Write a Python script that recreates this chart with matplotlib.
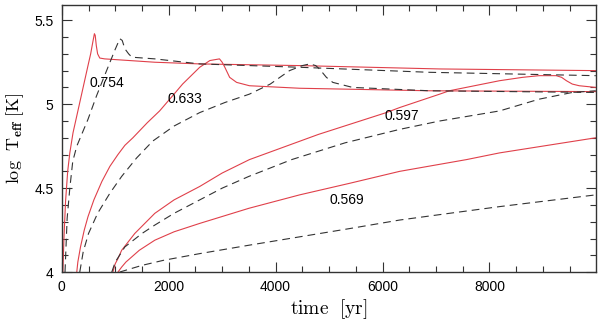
import matplotlib
matplotlib.use("Agg")
import matplotlib.pyplot as plt
from matplotlib.ticker import MultipleLocator

# ---- data ----
red_754_t = [20, 40, 70, 110, 150, 210, 280, 350, 420, 490, 540, 580, 610, 625, 645, 670, 710, 800, 1740, 2580, 4450, 7070, 9990]
red_754_v = [4.00, 4.20, 4.42, 4.60, 4.71, 4.83, 4.93, 5.03, 5.13, 5.23, 5.30, 5.37, 5.42, 5.41, 5.35, 5.30, 5.275, 5.27, 5.25, 5.24, 5.23, 5.21, 5.20]

dash_754_t = [60, 100, 150, 205, 280, 490, 650, 800, 990, 1085, 1130, 1180, 1250, 1310, 1740, 2580, 4450, 6880, 9990]
dash_754_v = [4.00, 4.32, 4.50, 4.66, 4.75, 4.91, 5.05, 5.17, 5.32, 5.39, 5.38, 5.33, 5.30, 5.28, 5.27, 5.24, 5.22, 5.19, 5.17]

red_633_t = [280, 300, 350, 420, 490, 600, 750, 900, 1050, 1180, 1330, 1600, 1830, 2100, 2260, 2580, 2770, 2950, 3000, 3050, 3140, 3270, 3510, 4450, 6880, 9990]
red_633_v = [4.00, 4.06, 4.15, 4.25, 4.33, 4.43, 4.54, 4.63, 4.70, 4.755, 4.80, 4.89, 4.96, 5.06, 5.12, 5.22, 5.26, 5.27, 5.25, 5.22, 5.16, 5.13, 5.11, 5.095, 5.08, 5.075]

dash_633_t = [336, 400, 500, 670, 900, 1120, 1400, 1700, 2100, 2580, 3050, 3510, 3900, 4260, 4500, 4640, 4750, 4820, 4950, 5070, 5440, 6880, 9990]
dash_633_v = [4.00, 4.12, 4.23, 4.35, 4.47, 4.57, 4.68, 4.78, 4.87, 4.95, 5.01, 5.06, 5.12, 5.20, 5.23, 5.24, 5.23, 5.21, 5.16, 5.13, 5.10, 5.08, 5.07]

red_597_t = [955, 1000, 1050, 1120, 1365, 1740, 2100, 2580, 3000, 3510, 4800, 6070, 6320, 7070, 7250, 8190, 8620, 8930, 9250, 9350, 9440, 9550, 9680, 9990]
red_597_v = [4.00, 4.05, 4.08, 4.13, 4.23, 4.35, 4.43, 4.51, 4.59, 4.67, 4.82, 4.95, 4.98, 5.06, 5.08, 5.14, 5.16, 5.17, 5.17, 5.16, 5.14, 5.12, 5.11, 5.10]

dash_597_t = [935, 1000, 1180, 1500, 1740, 2100, 2580, 3000, 3500, 4300, 5300, 6320, 7070, 8190, 8930, 9550, 9990]
dash_597_v = [4.00, 4.06, 4.15, 4.23, 4.28, 4.35, 4.43, 4.50, 4.57, 4.67, 4.77, 4.85, 4.90, 4.96, 5.03, 5.07, 5.08]

red_569_t = [1050, 1120, 1200, 1450, 1740, 2100, 2580, 3500, 4450, 5400, 6320, 7570, 8190, 9990]
red_569_v = [4.00, 4.03, 4.06, 4.13, 4.19, 4.24, 4.29, 4.38, 4.46, 4.53, 4.60, 4.67, 4.71, 4.80]

dash_569_t = [1080, 1500, 1900, 2580, 3500, 4450, 5400, 6320, 7250, 8190, 9990]
dash_569_v = [4.00, 4.04, 4.07, 4.11, 4.16, 4.21, 4.26, 4.31, 4.35, 4.39, 4.46]

mass_labels = ["0.754", "0.633", "0.597", "0.569"]
label_t = [841, 2300, 6355, 5330]
label_v = [5.125, 5.03, 4.93, 4.43]

xticks = [0, 2000, 4000, 6000, 8000]
yticks = [4, 4.5, 5, 5.5]
ytick_labels = ["4", "4.5", "5", "5.5"]

# ---- plot ----
plt.rcParams['mathtext.fontset'] = 'cm'
fig = plt.figure(figsize=(6.0, 3.22), dpi=100)
ax = fig.add_axes([0.103, 0.155, 0.890, 0.829])

red = "#e0404a"
dk = "#333333"
lw = 0.8
for t, v in [(red_754_t, red_754_v), (red_633_t, red_633_v), (red_597_t, red_597_v), (red_569_t, red_569_v)]:
    ax.plot(t, v, color=red, lw=lw, solid_joinstyle='round')
for t, v in [(dash_754_t, dash_754_v), (dash_633_t, dash_633_v), (dash_597_t, dash_597_v), (dash_569_t, dash_569_v)]:
    ax.plot(t, v, color=dk, lw=lw, dashes=(7, 4.5))

for s, t, v in zip(mass_labels, label_t, label_v):
    ax.text(t, v, s, fontsize=10, family="Liberation Sans", ha="center", va="center")

ax.set_xlim(0, 9990)
ax.set_ylim(4, 5.59)
ax.set_xticks(xticks)
ax.set_xticklabels([str(x) for x in xticks], family="Liberation Sans", fontsize=10)
ax.set_yticks(yticks)
ax.set_yticklabels(ytick_labels, family="Liberation Sans", fontsize=10)
ax.xaxis.set_minor_locator(MultipleLocator(500))
ax.yaxis.set_minor_locator(MultipleLocator(0.1))
ax.tick_params(which='both', direction='in', top=True, right=True, colors='#333333', labelcolor='black')
ax.tick_params(which='major', length=7, width=0.8, pad=6)
ax.tick_params(which='minor', length=4, width=0.8)
for sp in ax.spines.values():
    sp.set_color('#333333')
    sp.set_linewidth(1.0)

ax.set_xlabel(r'$\mathrm{time\ \ [yr]}$', fontsize=14, labelpad=2)
ax.set_ylabel(r'$\mathrm{log\ \ T}_{\mathbf{eff}}\ \mathrm{[K]}$', fontsize=13, labelpad=6)

fig.savefig("out.png", dpi=100)
